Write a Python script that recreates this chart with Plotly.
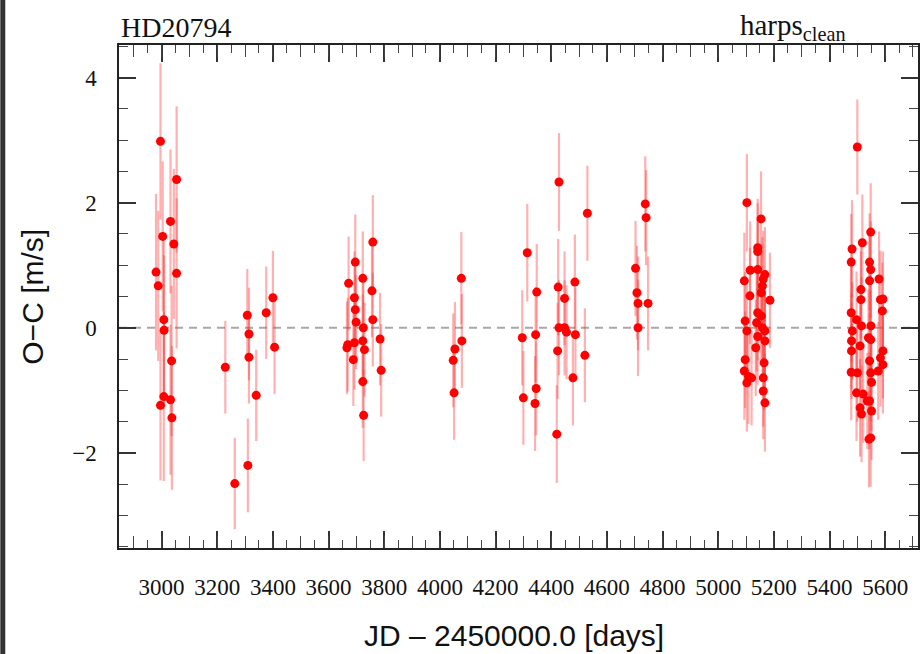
import plotly.graph_objects as go

# HARPS residuals (observed minus computed) for HD20794
jd = [
    2980, 2988, 2996, 3004, 3008, 3009, 3008, 2996, 3032, 3036, 3032, 3037, 3044, 3054, 3054,
    3229, 3263, 3308, 3314, 3314, 3310, 3340, 3376, 3400, 3406,
    3672, 3669, 3666, 3696, 3693, 3696, 3699, 3693, 3689, 3723, 3725, 3723, 3729, 3723, 3726,
    3759, 3756, 3759, 3785, 3789,
    4054, 4048, 4051, 4077, 4079,
    4314, 4296, 4300, 4348, 4344, 4346, 4342, 4428, 4425, 4428, 4423, 4420, 4448, 4448, 4455,
    4485, 4487, 4478, 4521, 4530,
    4703, 4708, 4712, 4712, 4738, 4741, 4748,
    5103, 5094, 5115, 5114, 5097, 5103, 5097, 5094, 5109, 5103, 5120, 5154, 5142, 5142, 5142,
    5168, 5162, 5159, 5186, 5155, 5142, 5155, 5138, 5159, 5142, 5168, 5168, 5135, 5165, 5162,
    5162, 5168,
    5500, 5481, 5478, 5548, 5518, 5544, 5548, 5544, 5578, 5513, 5513, 5583, 5592, 5590, 5478,
    5497, 5515, 5549, 5482, 5479, 5510, 5540, 5548, 5592, 5583, 5479, 5592, 5544, 5575, 5478,
    5500, 5548, 5551, 5497, 5521, 5536, 5510, 5544, 5551, 5515, 5548, 5542,
]
o_c = [
    0.89, 0.67, 2.98, 1.46, 0.13, -0.04, -1.10, -1.24, 1.70, -0.53, -1.15, -1.44, 1.34, 2.37, 0.87,
    -0.63, -2.49, 0.20, -0.10, -0.47, -2.20, -1.08, 0.24, 0.48, -0.31,
    0.71, -0.27, -0.32, 1.05, 0.48, 0.29, 0.09, -0.24, -0.51, 0.79, 0.00, -0.21, -0.35, -0.86, -1.40,
    1.37, 0.59, 0.13, -0.18, -0.68,
    -0.34, -0.52, -1.04, 0.79, -0.21,
    1.20, -0.16, -1.12, 0.57, -0.11, -0.97, -1.21, 2.33, 0.65, 0.00, -0.37, -1.70, 0.47, 0.00, -0.07,
    0.73, -0.11, -0.80, -0.44, 1.83,
    0.95, 0.56, 0.39, 0.00, 1.98, 1.76, 0.39,
    2.00, 0.75, 0.92, 0.51, 0.11, -0.05, -0.51, -0.69, -0.78, -0.88, -0.80, 1.74, 1.28, 1.22, 0.93,
    0.85, 0.78, 0.67, 0.44, 0.56, 0.24, 0.19, 0.08, 0.00, -0.14, -0.05, -0.21, -0.32, -0.56, -0.80,
    -1.01, -1.20,
    2.89, 1.26, 1.05, 1.53, 1.36, 1.05, 0.93, 0.75, 0.78, 0.61, 0.45, 0.45, 0.46, 0.27, 0.24,
    0.13, 0.03, 0.03, -0.05, -0.21, -0.29, -0.16, -0.19, -0.37, -0.48, -0.37, -0.59, -0.53, -0.69, -0.71,
    -0.72, -0.72, -0.87, -1.04, -1.06, -1.17, -1.28, -1.17, -1.33, -1.38, -1.76, -1.78,
]
o_c_err = [
    1.25, 1.20, 1.25, 1.20, 1.30, 1.20, 1.35, 1.20, 1.15, 1.20, 1.20, 1.15, 1.20, 1.17, 1.20,
    0.74, 0.73, 0.74, 0.74, 0.74, 0.75, 0.73, 0.74, 0.75, 0.75,
    0.75, 0.75, 0.74, 0.76, 0.74, 0.74, 0.75, 0.75, 0.74, 0.75, 0.76, 0.74, 0.75, 0.74, 0.73,
    0.75, 0.74, 0.75, 0.74, 0.74,
    0.75, 0.75, 0.75, 0.74, 0.75,
    0.78, 0.76, 0.75, 0.77, 0.76, 0.75, 0.76, 0.78, 0.77, 0.76, 0.77, 0.78, 0.75, 0.76, 0.75,
    0.76, 0.75, 0.76, 0.75, 0.76,
    0.76, 0.75, 0.75, 0.77, 0.76, 0.76, 0.75,
    0.78, 0.77, 0.78, 0.77, 0.78, 0.76, 0.77, 0.78, 0.76, 0.78, 0.76, 0.76, 0.78, 0.77, 0.76,
    0.76, 0.77, 0.78, 0.76, 0.77, 0.76, 0.77, 0.78, 0.76, 0.77, 0.76, 0.78, 0.77, 0.76, 0.78,
    0.77, 0.78,
    0.76, 0.78, 0.77, 0.78, 0.77, 0.78, 0.77, 0.78, 0.76, 0.78, 0.77, 0.78, 0.76, 0.77, 0.78,
    0.77, 0.78, 0.77, 0.78, 0.77, 0.78, 0.77, 0.78, 0.76, 0.78, 0.77, 0.78, 0.77, 0.78, 0.77,
    0.78, 0.77, 0.78, 0.77, 0.78, 0.77, 0.78, 0.77, 0.78, 0.77, 0.78, 0.77,
]

x_ticks = list(range(3000, 5601, 200))
y_ticks = [-2, 0, 2, 4]
y_tick_text = ["\u22122", "0", "2", "4"]

serif = "Liberation Serif, Times New Roman, serif"
sans = "Liberation Sans, Arial, sans-serif"
x_range = [2847, 5718]
y_range = [-3.52, 4.52]

fig = go.Figure()

fig.add_trace(go.Scatter(
    x=jd, y=o_c, mode="markers",
    marker=dict(color="#ff0000", size=9, line=dict(width=0)),
    error_y=dict(type="data", array=o_c_err, visible=True,
                 color="rgba(255,50,50,0.38)", thickness=2.2, width=0),
    showlegend=False,
))

# zero reference line
fig.add_shape(type="line", xref="paper", x0=0, x1=1, yref="y", y0=0, y1=0,
              line=dict(color="#a8a8a8", width=2, dash="8px,6px"), layer="below")

# dark strip along the left border of the canvas
fig.add_shape(type="rect", xref="paper", yref="paper",
              x0=-119 / 801, x1=-114 / 801, y0=-106 / 503, y1=1 + 45 / 503,
              fillcolor="#333333", line=dict(width=0))

axis_common = dict(
    showline=True, linecolor="#222222", linewidth=1.5, mirror="ticks",
    ticks="inside", tickcolor="#333333", tickwidth=1.5, ticklen=17,
    showgrid=False, zeroline=False,
    tickfont=dict(family=serif, size=23, color="#111111"),
)

fig.update_xaxes(
    range=x_range, tickvals=x_ticks,
    ticklabelstandoff=18,
    minor=dict(dtick=50, tick0=3000, ticks="inside", ticklen=8,
               tickcolor="#444444", tickwidth=1.2, showgrid=False),
    **axis_common,
)
fig.update_yaxes(
    range=y_range, tickvals=y_ticks, ticktext=y_tick_text,
    ticklabelstandoff=16,
    minor=dict(dtick=0.5, tick0=0, ticks="inside", ticklen=9,
               tickcolor="#444444", tickwidth=1.2, showgrid=False),
    **axis_common,
)

# medium-length ticks every 100 days on both horizontal edges
fig.update_layout(xaxis2=dict(
    overlaying="x", matches="x", range=x_range, side="bottom",
    tickmode="linear", tick0=3000, dtick=100, ticks="inside", ticklen=12,
    tickcolor="#444444", tickwidth=1.3, showticklabels=False,
    showline=False, mirror="ticks", showgrid=False, zeroline=False,
))
fig.add_trace(go.Scatter(x=[x_range[0]], y=[y_range[0]], xaxis="x2", mode="markers",
                         marker=dict(opacity=0), hoverinfo="skip", showlegend=False))

fig.add_annotation(text="HD20794", xref="paper", yref="paper", x=0.0, y=1.0,
                   xanchor="left", yanchor="bottom", yshift=0, showarrow=False,
                   font=dict(family=serif, size=28, color="#111111"))
fig.add_annotation(text="harps<sub>clean</sub>", xref="paper", yref="paper",
                   x=(850 - 119) / 801, y=1.0, xanchor="right", yanchor="bottom",
                   yshift=-2, showarrow=False,
                   font=dict(family=serif, size=29, color="#111111"))
fig.add_annotation(text="O\u2212C [m/s]", xref="paper", yref="paper",
                   x=(32 - 119) / 801, y=0.5, xanchor="center", yanchor="middle",
                   textangle=-90, showarrow=False,
                   font=dict(family=sans, size=30, color="#111111"))
fig.add_annotation(text="JD \u2013 2450000.0 [days]", xref="paper", yref="paper",
                   x=(515 - 119) / 801, y=(548 - 635) / 503, xanchor="center",
                   yanchor="middle", showarrow=False,
                   font=dict(family=sans, size=30, color="#111111"))

fig.update_layout(
    width=922, height=654,
    margin=dict(l=119, r=2, t=45, b=106),
    paper_bgcolor="white", plot_bgcolor="white",
)

fig.write_html("out.html")
